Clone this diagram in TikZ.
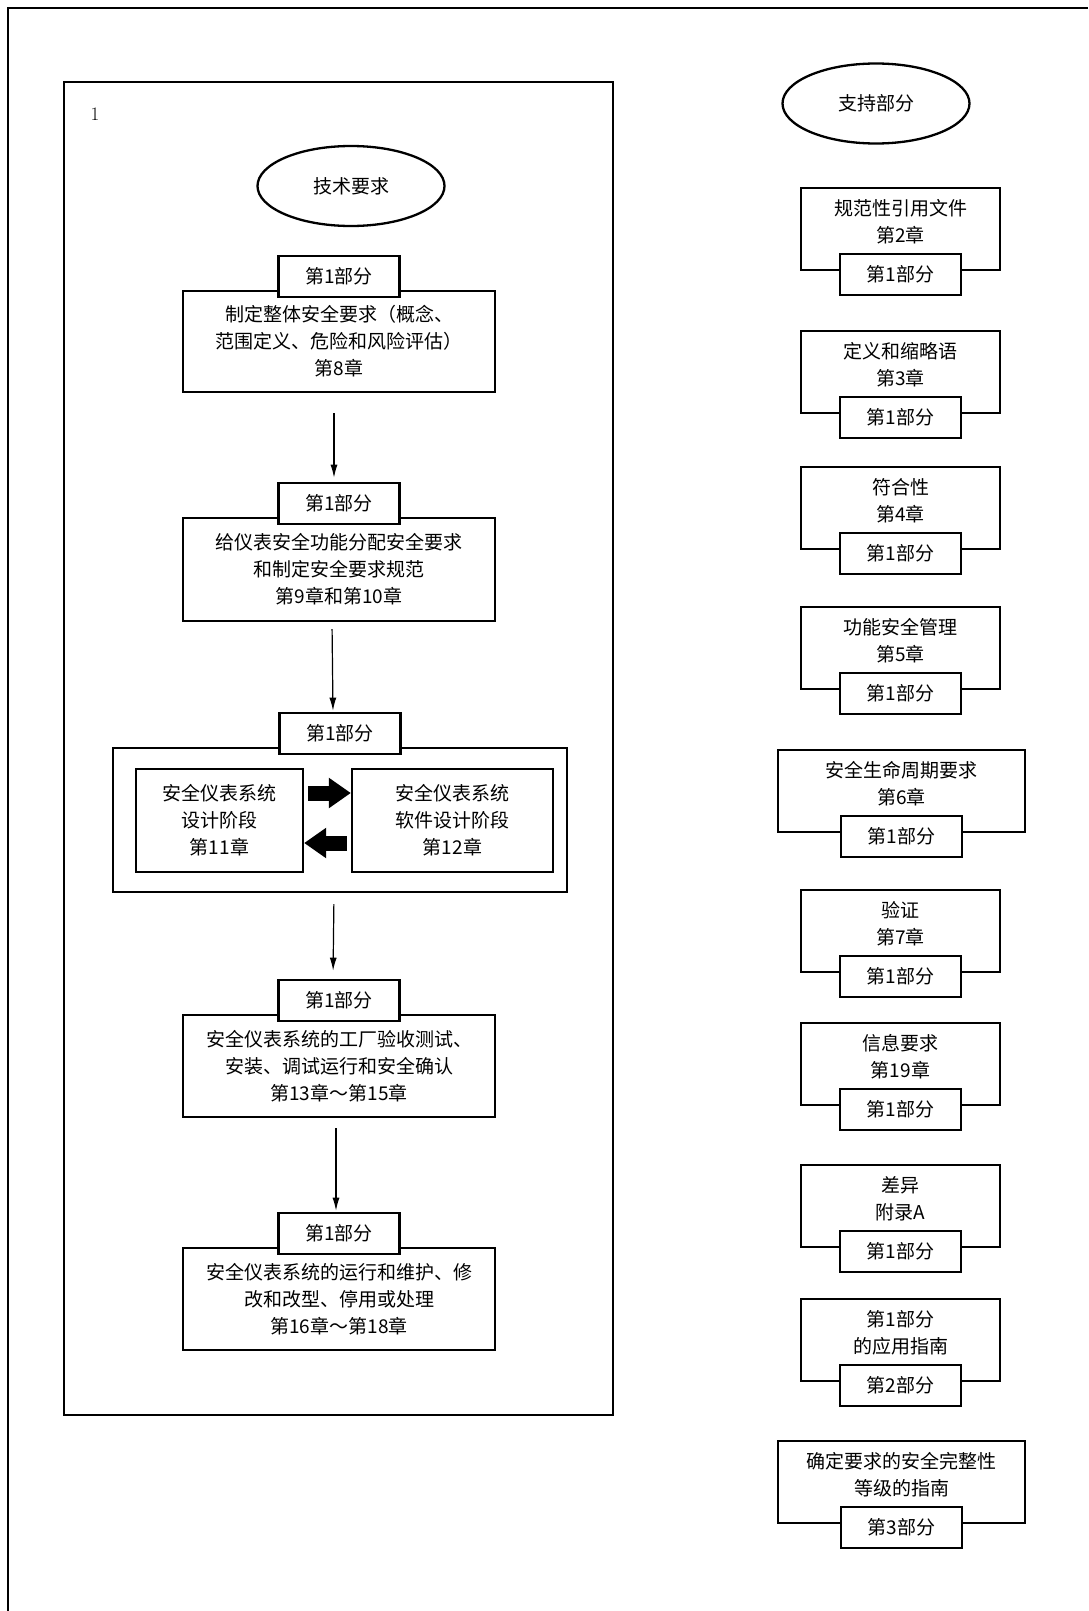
\documentclass[tikz,border=0pt]{standalone}
\usepackage{fontspec}
\newfontfamily\cjk{Noto Sans CJK SC}
\usetikzlibrary{positioning,calc,arrows.meta,shapes.geometric}

\tikzset{
  box/.style={draw, line width=2.3pt, align=center, inner sep=0pt, font=\cjk\fontsize{19}{27}\selectfont},
  tab/.style={box, fill=white, minimum width=121pt, minimum height=41pt},
  rbox/.style={draw, line width=2.3pt, minimum width=199pt, minimum height=82pt},
  wbox/.style={rbox, minimum width=247pt},
  oval/.style={draw, ellipse, line width=2.3pt, minimum width=187pt, minimum height=80pt, font=\cjk\fontsize{19}{27}\selectfont},
  txt/.style={align=center, inner sep=0pt, font=\cjk\fontsize{19}{27}\selectfont},
  arr/.style={line width=1.2pt, -{Latex[length=13pt,width=7pt]}},
  blk/.style={line width=15pt, -{Triangle[length=22pt,width=29pt]}},
}

\begin{document}
\begin{tikzpicture}[x=1pt,y=-1pt]
\useasboundingbox (0,0) rectangle (1088,1611);
% Draw outer frame (top and left side only)
\draw[line width=2.3pt] (8,1611) -- (8,8) -- (1088,8);
% Draw large box round the technical requirements
\draw[line width=2.3pt] (64,82) rectangle (613,1415);
\node (num) at (95,114) {\fontsize{19}{23}\selectfont 1};
% Ellipse for the title on the left
\node[oval] (tech) at (351,186) {技术要求};

% First box, chapter 8
\node[box, minimum width=312pt, minimum height=101pt] (b1) at (339,341.5) {制定整体安全要求（概念、\\范围定义、危险和风险评估）\\第8章};
\node[tab] (t1) at ($(b1.north)+(0,-13.5)$) {第1部分};
% Second box, chapters 9 and 10
\node[box, minimum width=312pt, minimum height=103pt] (b2) at (339,569.5) {给仪表安全功能分配安全要求\\和制定安全要求规范\\第9章和第10章};
\node[tab] (t2) at ($(b2.north)+(0,-13.5)$) {第1部分};
% Third box with the two design phases
\node[box, minimum width=454pt, minimum height=144pt] (b3) at (340,820) {};
\node[tab] (t3) at ($(b3.north)+(0,-13.5)$) {第1部分};
\node[box, minimum width=167pt, minimum height=103pt] (hw) at (219.5,820.5) {安全仪表系统\\设计阶段\\第11章};
\node[box, minimum width=201pt, minimum height=103pt] (sw) at (452.5,820.5) {安全仪表系统\\软件设计阶段\\第12章};
% Block arrows between the two phases
\draw[blk] ([yshift=27.5pt,xshift=4pt]hw.east) -- ([yshift=27.5pt]sw.west);
\draw[blk] ([yshift=-22.5pt,xshift=-4pt]sw.west) -- ([yshift=-22.5pt]hw.east);
% Fourth box, chapters 13 to 15
\node[box, minimum width=312pt, minimum height=102pt] (b4) at (339,1066) {安全仪表系统的工厂验收测试、\\安装、调试运行和安全确认\\第13章～第15章};
\node[tab] (t4) at ($(b4.north)+(0,-13.5)$) {第1部分};
% Fifth box, chapters 16 to 18
\node[box, minimum width=312pt, minimum height=102pt] (b5) at (339,1299) {安全仪表系统的运行和维护、修\\改和改型、停用或处理\\第16章～第18章};
\node[tab] (t5) at ($(b5.north)+(0,-13.5)$) {第1部分};
% Arrows down the left column
\draw[arr, shorten <=20pt, shorten >=4pt] ([xshift=-5pt]b1.south) -- ([xshift=-5pt]t2.north);
\draw[arr, shorten <=7pt, shorten >=1pt] ([xshift=-7pt]b2.south) -- ([xshift=-7pt]t3.north);
\draw[arr, shorten <=11pt, shorten >=8pt] ([xshift=-6pt]b3.south) -- ([xshift=-6pt]t4.north);
\draw[arr, shorten <=10pt, shorten >=1pt] ([xshift=-3pt]b4.south) -- ([xshift=-3pt]t5.north);

% Ellipse for the title on the right
\node[oval] (supp) at (876,103.5) {支持部分};
% Supporting parts, one box each
\node[rbox] (s1) at (900.5,229) {};
\node[txt] (s1t) at ($(s1.center)+(0,-7.5)$) {规范性引用文件\\第2章};
\node[tab] (s1p) at ($(s1.south)+(0,3.5)$) {第1部分};
\node[rbox] (s2) at (900.5,372) {};
\node[txt] (s2t) at ($(s2.center)+(0,-7.5)$) {定义和缩略语\\第3章};
\node[tab] (s2p) at ($(s2.south)+(0,3.5)$) {第1部分};
\node[rbox] (s3) at (900.5,508) {};
\node[txt] (s3t) at ($(s3.center)+(0,-7.5)$) {符合性\\第4章};
\node[tab] (s3p) at ($(s3.south)+(0,3.5)$) {第1部分};
\node[rbox] (s4) at (900.5,648) {};
\node[txt] (s4t) at ($(s4.center)+(0,-7.5)$) {功能安全管理\\第5章};
\node[tab] (s4p) at ($(s4.south)+(0,3.5)$) {第1部分};
\node[wbox] (s5) at (901.5,791) {};
\node[txt] (s5t) at ($(s5.center)+(0,-7.5)$) {安全生命周期要求\\第6章};
\node[tab] (s5p) at ($(s5.south)+(0,3.5)$) {第1部分};
\node[rbox] (s6) at (900.5,931) {};
\node[txt] (s6t) at ($(s6.center)+(0,-7.5)$) {验证\\第7章};
\node[tab] (s6p) at ($(s6.south)+(0,3.5)$) {第1部分};
\node[rbox] (s7) at (900.5,1064) {};
\node[txt] (s7t) at ($(s7.center)+(0,-7.5)$) {信息要求\\第19章};
\node[tab] (s7p) at ($(s7.south)+(0,3.5)$) {第1部分};
\node[rbox] (s8) at (900.5,1206) {};
\node[txt] (s8t) at ($(s8.center)+(0,-7.5)$) {差异\\附录A};
\node[tab] (s8p) at ($(s8.south)+(0,3.5)$) {第1部分};
\node[rbox] (s9) at (900.5,1340) {};
\node[txt] (s9t) at ($(s9.center)+(0,-7.5)$) {第1部分\\的应用指南};
\node[tab] (s9p) at ($(s9.south)+(0,3.5)$) {第2部分};
\node[wbox] (s10) at (901.5,1482) {};
\node[txt] (s10t) at ($(s10.center)+(0,-7.5)$) {确定要求的安全完整性\\等级的指南};
\node[tab] (s10p) at ($(s10.south)+(0,3.5)$) {第3部分};
\end{tikzpicture}
\end{document}
